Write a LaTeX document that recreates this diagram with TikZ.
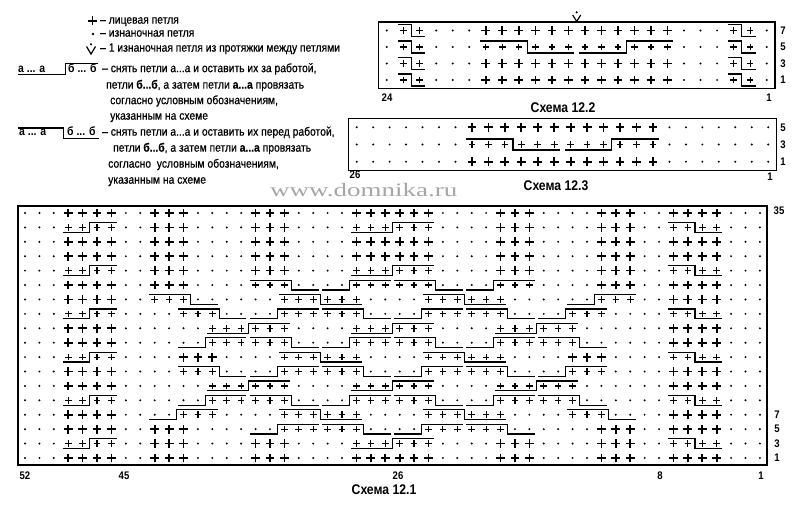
\documentclass[tikz,border=0pt]{standalone}
\usepackage{fontspec}
\setmainfont{Liberation Sans}
\newfontfamily\lf[FakeStretch=0.87]{Liberation Sans}
\newfontfamily\lfm[FakeStretch=0.86,FakeBold=0.6]{Liberation Sans}
\newfontfamily\wmf[FakeStretch=1.42]{Liberation Serif}
\makeatletter
\newcount\kc@col
\def\chartrow#1#2{\def\kc@y{#1}\kc@col=0 \kc@parse#2\relax}
\def\kc@parse#1{\ifx#1\relax\else\pic at (\the\kc@col,\kc@y) {sym#1};\advance\kc@col by 1 \expandafter\kc@parse\fi}
\makeatother
\def\hh{0.34}
\def\ins{0.13}
\newcommand\xov[4]{\draw[crossln] ({#2-0.5+\ins},{#1-\hh}) -- ({#2+#3-0.5},{#1-\hh}) -- ({#2+#3-0.5},{#1+\hh}) -- ({#2+#3+#4-0.5-\ins},{#1+\hh});}
\newcommand\xun[4]{\draw[crossln] ({#2-0.5+\ins},{#1+\hh}) -- ({#2+#3-0.5},{#1+\hh}) -- ({#2+#3-0.5},{#1-\hh}) -- ({#2+#3+#4-0.5-\ins},{#1-\hh});}
\tikzset{
  symd/.pic={\fill (0,0) circle[radius=1.1pt];},
  symk/.pic={\draw[line width=1.7pt] (-4.4pt,0) -- (4.4pt,0) (0,-4.4pt) -- (0,4.4pt);},
  syms/.pic={\draw[line width=1.2pt] (-3.3pt,0) -- (3.3pt,0) (0,-3.3pt) -- (0,3.3pt);},
  crossln/.style={line width=1.2pt},
  boxln/.style={line width=1.5pt},
  lbl/.style={font=\lf\bfseries\fontsize{11}{13}\selectfont, inner sep=0pt},
  ttl/.style={font=\lf\bfseries\fontsize{14}{16}\selectfont, inner sep=0pt},
  lgd/.style={font=\lfm\fontsize{12}{14}\selectfont, inner sep=0pt, anchor=mid west},
  lgdb/.style={font=\lf\bfseries\fontsize{12}{14}\selectfont, inner sep=0pt, anchor=mid west},
  wm/.style={font=\wmf\fontsize{19}{21}\selectfont, text=black!35, inner sep=0pt}
}
\begin{document}
\begin{tikzpicture}[x=1pt,y=-1pt]
\useasboundingbox (0,0) rectangle (800,511);
\fill[white] (0,0) rectangle (800,511);

% watermark
\node[wm, anchor=base west] (wm) at (270,196) {www.domnika.ru};

% ---------- legend ----------
\draw[line width=1.6pt] (88,21) -- (97,21) (92.5,16.5) -- (92.5,25.5);
\fill (93,34) circle[radius=1.3pt];
\fill (91,44.3) circle[radius=1.2pt];
\draw[line width=1.2pt] (86.5,46.5) -- (91,54) -- (95.5,46.5);
\node[lgd] (t1) at (100,21) {– лицевая петля};
\node[lgd] (t2) at (100,34) {– изнаночная петля};
\node[lgd] (t3) at (100,49) {– 1 изнаночная петля из протяжки между петлями};
\node[lgdb] (a1) at (18,69.5) {а ... а};
\node[lgdb] (b1) at (68,69.5) {б ... б};
\draw[crossln] (18,74.5) -- (65.5,74.5) -- (65.5,63.5) -- (98,63.5);
\node[lgd] (t4) at (102,69.5) {– снять петли а...а и оставить их за работой,};
\node[lgd] (t5) at (106,86) {петли \textbf{б...б}, а затем петли \textbf{а...а} провязать};
\node[lgd] (t6) at (110,101.5) {согласно условным обозначениям,};
\node[lgd] (t7) at (110,117) {указанным на схеме};
\node[lgdb] (a2) at (19,133) {а ... а};
\node[lgdb] (b2) at (67,133) {б ... б};
\draw[crossln] (18,128) -- (63.5,128) -- (63.5,138.5) -- (99,138.5);
\node[lgd] (t8) at (102,133) {– снять петли а...а и оставить их перед работой,};
\node[lgd] (t9) at (113,149) {петли \textbf{б...б}, а затем петли \textbf{а...а} провязать};
\node[lgd] (t10) at (108,165) {согласно\ \ условным обозначениям,};
\node[lgd] (t11) at (108,181) {указанным на схеме};

% ---------- Schema 12.2 ----------
\begin{scope}[shift={(386.7,30.5)}, x=16.52pt, y=-16.5pt]
  \def\hh{0.36}\def\ins{0.17}
  \draw[boxln] (-0.5,-0.5) rectangle (23.5,3.5);
  \chartrow{0}{dssdddkkkkkkkkkkkkdddssd}
  \chartrow{1}{dssdddssssssssssssdddssd}
  \chartrow{2}{dssdddkkkkkkkkkkkkdddssd}
  \chartrow{3}{dssdddkkkkkkkkkkkkdddssd}
  \foreach \r in {0,1,2,3}{\xov{\r}{1}{1}{1} \xov{\r}{21}{1}{1}}
  \xov{1}{6}{3}{3} \xun{1}{12}{3}{3}
\end{scope}
\fill (576.7,12.3) circle[radius=1.2pt];
\draw[line width=1.2pt] (572.7,15) -- (576.7,21.5) -- (580.7,15);
\node[lbl] (r27) at (783,30.5) {7};
\node[lbl] (r25) at (783,47) {5};
\node[lbl] (r23) at (783,63.5) {3};
\node[lbl] (r21) at (783,80) {1};
\node[lbl] (c224) at (387,98) {24};
\node[lbl] (c21) at (769,98) {1};
\node[ttl] (s122) at (563,108) {Схема 12.2};

% ---------- Schema 12.3 ----------
\begin{scope}[shift={(356.7,127.3)}, x=16.46pt, y=-17.2pt]
  \def\hh{0.32}\def\ins{0.15}
  \draw[boxln] (-0.5,-0.5) rectangle (25.5,2.5);
  \chartrow{0}{dddddddkkkkkkkkkkkkddddddd}
  \chartrow{1}{dddddddssssssssssssddddddd}
  \chartrow{2}{dddddddkkkkkkkkkkkkddddddd}
  \xov{1}{7}{3}{3} \xun{1}{13}{3}{3}
\end{scope}
\node[lbl] (r35) at (783,127.3) {5};
\node[lbl] (r33) at (783,144.5) {3};
\node[lbl] (r31) at (783,161.7) {1};
\node[lbl] (c326) at (355,174.3) {26};
\node[lbl] (c31) at (770,177) {1};
\node[ttl] (s123) at (556,186) {Схема 12.3};

% ---------- Schema 12.1 ----------
\begin{scope}[shift={(25,213)}, x=14.41pt, y=-14.41pt]
  \draw[boxln] (-0.5,-0.5) rectangle (51.5,17.5);
  \chartrow{0}{dddkkkkddkkkddddkkkddddkkkkkkddddkkkddddkkkddkkkkddd}
  \chartrow{1}{dddssssddkkkddddkkkddddssssssddddkkkddddkkkddssssddd}
  \chartrow{2}{dddkkkkddkkkddddkkkddddkkkkkkddddkkkddddkkkddkkkkddd}
  \chartrow{3}{dddkkkkddkkkddddkkkddddkkkkkkddddkkkddddkkkddkkkkddd}
  \chartrow{4}{dddssssddkkkddddkkkddddssssssddddkkkddddkkkddssssddd}
  \chartrow{5}{dddkkkkddkkkddddsssddddssssssddddsssddddkkkddkkkkddd}
  \chartrow{6}{dddkkkkddsssddddddssssssddddssssssddddddsssddkkkkddd}
  \chartrow{7}{dddssssddddsssddddssssssddddssssssddddsssddddssssddd}
  \chartrow{8}{dddkkkkddddddssssssddddssssssddddssssssddddddkkkkddd}
  \chartrow{9}{dddkkkkddddddssssssddddssssssddddssssssddddddkkkkddd}
  \chartrow{10}{dddssssddddkkkddddssssssddddssssssddddkkkddddssssddd}
  \chartrow{11}{dddkkkkddddsssddddssssssddddssssssddddsssddddkkkkddd}
  \chartrow{12}{dddkkkkddddddssssssddddssssssddddssssssddddddkkkkddd}
  \chartrow{13}{dddssssddddddssssssddddssssssddddssssssddddddssssddd}
  \chartrow{14}{dddkkkkddddsssddddssssssddddssssssddddsssddddkkkkddd}
  \chartrow{15}{dddkkkkddkkkddddddssssssddddssssssddddddkkkddkkkkddd}
  \chartrow{16}{dddssssddkkkddddkkkddddssssssddddkkkddddkkkddssssddd}
  \chartrow{17}{dddkkkkddkkkddddkkkddddkkkkkkddddkkkddddkkkddkkkkddd}
  % side cables
  \foreach \k in {1,4,7,10,13,16}{\xun{\k}{3}{2}{2} \xov{\k}{45}{2}{2}}
  % middle cable
  \foreach \k in {1,4,16}{\xun{\k}{23}{3}{3}}
  % type A
  \foreach \k in {5,9,13}{\xov{\k}{16}{3}{2} \xun{\k}{21}{2}{3} \xov{\k}{26}{3}{2} \xun{\k}{31}{2}{3}}
  % type B
  \foreach \k in {6,10,14}{\xov{\k}{18}{3}{3} \xov{\k}{28}{3}{3}}
  % type C
  \foreach \k in {7,11,15}{\xun{\k}{16}{2}{3} \xov{\k}{21}{3}{2} \xun{\k}{26}{2}{3} \xov{\k}{31}{3}{2}}
  % type D
  \foreach \k in {8,12}{\xun{\k}{13}{3}{3} \xun{\k}{23}{3}{3} \xun{\k}{33}{3}{3}}
  % outer ribs
  \xov{6}{9}{3}{2} \xun{6}{38}{2}{3}
  \foreach \k in {7,11}{\xov{\k}{11}{3}{2} \xun{\k}{36}{2}{3}}
  \foreach \k in {9,13}{\xun{\k}{11}{2}{3} \xov{\k}{36}{3}{2}}
  \xun{14}{9}{2}{3} \xov{14}{38}{3}{2}
\end{scope}
\node[lbl] (r135) at (779,211) {35};
\node[lbl] (r17) at (777,414.7) {7};
\node[lbl] (r15) at (777,429.2) {5};
\node[lbl] (r13) at (777,443.6) {3};
\node[lbl] (r11) at (777,458) {1};
\node[lbl] (c152) at (25,476) {52};
\node[lbl] (c145) at (124,476) {45};
\node[lbl] (c126) at (398,476) {26};
\node[lbl] (c18) at (660,476) {8};
\node[lbl] (c11) at (761,476) {1};
\node[ttl] (s121) at (384,490) {Схема 12.1};
\end{tikzpicture}
\end{document}
